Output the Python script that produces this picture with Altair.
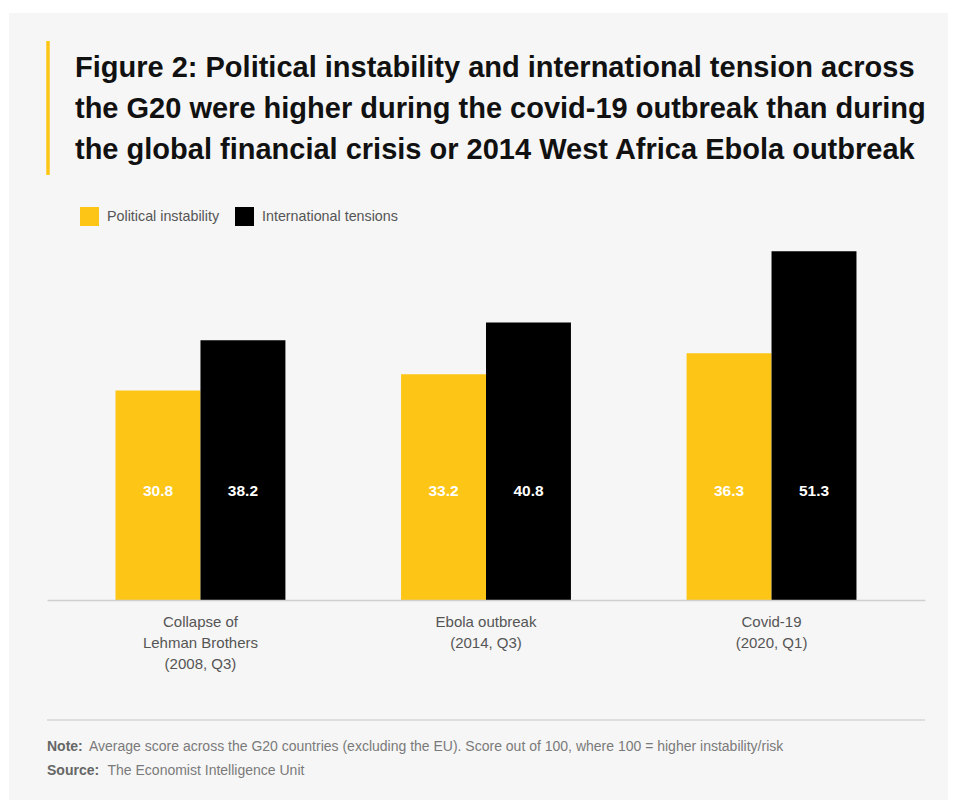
import altair as alt
import pandas as pd

# ---- data ----
events = ["Collapse of\nLehman Brothers\n(2008, Q3)", "Ebola outbreak\n(2014, Q3)", "Covid-19\n(2020, Q1)"]
series = ["Political instability", "International tensions"]
political = [30.8, 33.2, 36.3]
international = [38.2, 40.8, 51.3]
colors = ["#fdc515", "#000000"]

title_lines = [
    "Figure 2: Political instability and international tension across",
    "the G20 were higher during the covid-19 outbreak than during",
    "the global financial crisis or 2014 West Africa Ebola outbreak",
]
note_text = "Average score across the G20 countries (excluding the EU). Score out of 100, where 100 = higher instability/risk"
source_text = "The Economist Intelligence Unit"

rows = []
for e, p, i in zip(events, political, international):
    rows.append({"event": e, "series": series[0], "value": p, "labelpos": 16})
    rows.append({"event": e, "series": series[1], "value": i, "labelpos": 16})
df = pd.DataFrame(rows)

FONT = "Liberation Sans"
W, H = 878, 374
PAD = {"left": 39, "top": 218, "right": 23, "bottom": 200}

x_enc = alt.X("event:N", sort=events,
              scale=alt.Scale(paddingInner=0.405, paddingOuter=0.24),
              axis=alt.Axis(title=None, ticks=False, domain=True, domainColor="#d0d0d0",
                            domainWidth=1.5, labelAngle=0, labelFont=FONT, labelFontSize=15,
                            labelColor="#555555", labelPadding=14, labelLineHeight=21.3,
                            labelExpr="split(datum.label, '\\n')", zindex=1))
xoff = alt.XOffset("series:N", sort=series, scale=alt.Scale(paddingInner=0, paddingOuter=0))
y_scale = alt.Scale(domain=[0, 55], nice=False, zero=True)

base = alt.Chart(df)

bars = base.mark_bar().encode(
    x=x_enc,
    xOffset=xoff,
    y=alt.Y("value:Q", scale=y_scale, axis=None),
    color=alt.Color("series:N", sort=series,
                    scale=alt.Scale(domain=series, range=colors),
                    legend=alt.Legend(orient="none", legendX=33, legendY=-19, direction="horizontal",
                                      title=None, symbolType="square", symbolSize=361,
                                      symbolStrokeWidth=0, symbolOpacity=1, labelFont=FONT,
                                      labelFontSize=14.3, labelColor="#555555", labelOffset=8,
                                      columnPadding=15, padding=0, zindex=1)),
)

labels = base.mark_text(color="white", fontWeight="bold", fontSize=15.5, font=FONT,
                        baseline="middle", align="center").encode(
    x=alt.X("event:N", sort=events),
    xOffset=xoff,
    y=alt.Y("labelpos:Q", scale=y_scale),
    text=alt.Text("value:Q", format=".1f"),
)

one = alt.Data(values=[{"k": 1}])

panel = alt.Chart(one).mark_rect(color="#f6f6f6").encode(
    x=alt.value(-38), x2=alt.value(W + PAD["right"]),
    y=alt.value(-213), y2=alt.value(H + PAD["bottom"]))

accent = alt.Chart(one).mark_rule(color="#fdc515", strokeWidth=3.5).encode(
    x=alt.value(1), y=alt.value(-185), y2=alt.value(-51))

title = alt.Chart(one).mark_text(align="left", baseline="alphabetic", fontSize=29,
                                 fontWeight="bold", font=FONT, lineHeight=41,
                                 color="#111111").encode(
    x=alt.value(28), y=alt.value(-149), text=alt.value(title_lines))

footer_rule = alt.Chart(one).mark_rule(color="#d6d6d6", strokeWidth=1.5).encode(
    x=alt.value(0), x2=alt.value(W), y=alt.value(494))

note_b = alt.Chart(one).mark_text(align="left", baseline="middle", fontSize=14, font=FONT,
                                  fontWeight="bold", color="#666666").encode(
    x=alt.value(0), y=alt.value(520.7), text=alt.value("Note:"))
note_t = alt.Chart(one).mark_text(align="left", baseline="middle", fontSize=14, font=FONT,
                                  color="#7a7a7a").encode(
    x=alt.value(42), y=alt.value(520.7), text=alt.value(note_text))
src_b = alt.Chart(one).mark_text(align="left", baseline="middle", fontSize=14, font=FONT,
                                 fontWeight="bold", color="#666666").encode(
    x=alt.value(0), y=alt.value(544.7), text=alt.value("Source:"))
src_t = alt.Chart(one).mark_text(align="left", baseline="middle", fontSize=14, font=FONT,
                                 color="#7a7a7a").encode(
    x=alt.value(60.5), y=alt.value(544.7), text=alt.value(source_text))

chart = alt.layer(panel, bars, labels, accent, title, footer_rule, note_b, note_t, src_b, src_t).properties(
    width=W, height=H,
    autosize=alt.AutoSizeParams(type="none"),
    padding=PAD,
    background="white",
).configure_view(stroke=None)

chart.save("out.html", embed_options={"renderer": "svg", "actions": False})
